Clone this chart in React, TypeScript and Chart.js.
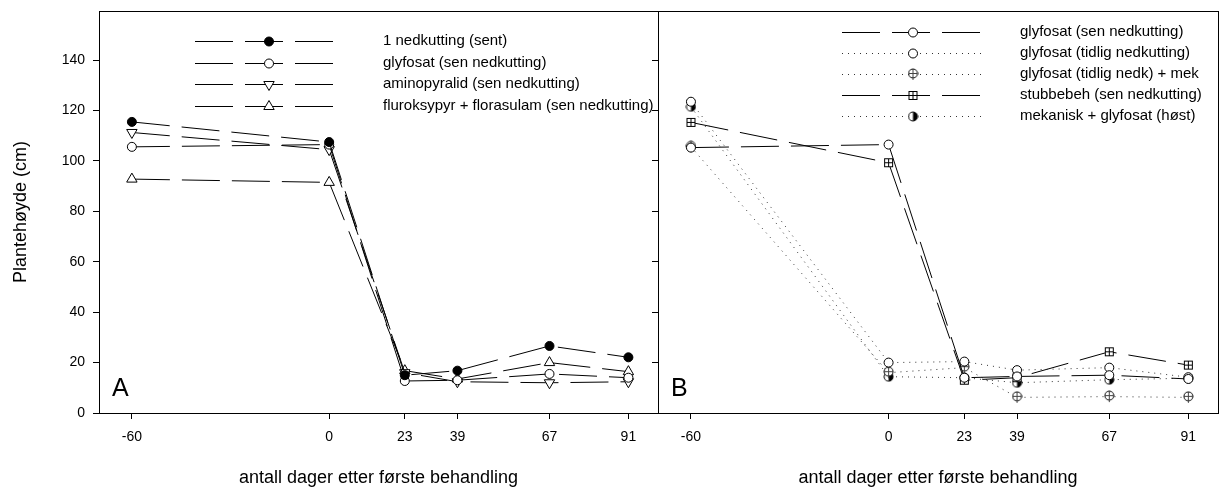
import React, { useEffect, useRef } from 'react';
import { Chart, registerables } from 'chart.js';
import { drawPoint } from 'chart.js/helpers';

Chart.register(...registerables);

// ---------- data ----------
const days = [-60, 0, 23, 39, 67, 91];
const xTickValues = [-60, 0, 23, 39, 67, 91];
const yTickValues = [0, 20, 40, 60, 80, 100, 120, 140];

// Panel A
const aLabels = [
  '1 nedkutting (sent)',
  'glyfosat (sen nedkutting)',
  'aminopyralid (sen nedkutting)',
  'fluroksypyr + florasulam (sen nedkutting)',
];
const aNedkuttingSent = [115.5, 107.5, 15, 16.8, 26.6, 22.1];
const aGlyfosatSen = [105.6, 106.5, 12.7, 13, 15.5, 14];
const aAminopyralid = [111.3, 104.5, 16, 12.4, 12, 12.4];
const aFluroksypyr = [92.8, 91.5, 16.8, 13.5, 20, 16.4];

// Panel B
const bLabels = [
  'glyfosat (sen nedkutting)',
  'glyfosat (tidlig nedkutting)',
  'glyfosat (tidlig nedk) + mek',
  'stubbebeh (sen nedkutting)',
  'mekanisk + glyfosat (høst)',
];
const bGlyfosatSen = [105.3, 106.5, 14, 14.5, 15, 13.5];
const bGlyfosatTidlig = [123.5, 20, 20.4, 17, 18, 14.2];
const bGlyfosatTidligMek = [105.6, 16, 18, 6.2, 6.5, 6.2];
const bStubbebeh = [115.3, 99.3, 13, 14, 24.3, 19];
const bMekaniskGlyfosat = [121.5, 14.4, 14, 12, 13.2, 13.8];

const FONT = '"Liberation Sans", Arial, sans-serif';
const LONG_DASH = [38, 12];
const DOTTED = [1, 5];

// ---------- custom markers ----------
function makeSquareCross(): HTMLCanvasElement {
  const c = document.createElement('canvas');
  c.width = 11; c.height = 11;
  const g = c.getContext('2d')!;
  g.fillStyle = '#fff';
  g.fillRect(1, 1, 9, 9);
  g.strokeStyle = '#000';
  g.lineWidth = 1;
  g.strokeRect(1.5, 1.5, 8, 8);
  g.beginPath();
  g.moveTo(5.5, 1.5); g.lineTo(5.5, 9.5);
  g.moveTo(1.5, 5.5); g.lineTo(9.5, 5.5);
  g.stroke();
  return c;
}
function makeHalfCircle(): HTMLCanvasElement {
  const c = document.createElement('canvas');
  c.width = 11; c.height = 11;
  const g = c.getContext('2d')!;
  g.fillStyle = '#fff';
  g.beginPath(); g.arc(5.5, 5.5, 4.5, 0, Math.PI * 2); g.fill();
  g.fillStyle = '#000';
  g.beginPath(); g.arc(5.5, 5.5, 4.5, -Math.PI / 2, Math.PI / 2); g.closePath(); g.fill();
  g.strokeStyle = '#000'; g.lineWidth = 1;
  g.beginPath(); g.arc(5.5, 5.5, 4.5, 0, Math.PI * 2); g.stroke();
  return c;
}
function makeCrossCircle(): HTMLCanvasElement {
  const c = document.createElement('canvas');
  c.width = 11; c.height = 13;
  const g = c.getContext('2d')!;
  g.fillStyle = '#fff';
  g.beginPath(); g.arc(5.5, 5.5, 4.5, 0, Math.PI * 2); g.fill();
  g.strokeStyle = '#000'; g.lineWidth = 1;
  g.beginPath(); g.arc(5.5, 5.5, 4.5, 0, Math.PI * 2); g.stroke();
  g.strokeStyle = '#444';
  g.beginPath();
  g.moveTo(5.5, 1); g.lineTo(5.5, 12);
  g.moveTo(1, 5.5); g.lineTo(10, 5.5);
  g.stroke();
  return c;
}

type SeriesDef = {
  label: string;
  values: number[];
  dash: number[];
  pointStyle: any;
  fill: string;
  radius: number;
  rotation?: number;
  lineColor?: string;
};

function toDataset(s: SeriesDef) {
  return {
    label: s.label,
    data: days.map((d, i) => ({ x: d, y: s.values[i] })),
    borderColor: s.lineColor || '#000',
    borderWidth: 1,
    borderDash: s.dash,
    pointStyle: s.pointStyle,
    pointRotation: s.rotation || 0,
    pointRadius: s.radius,
    pointBackgroundColor: s.fill,
    pointBorderColor: '#000',
    pointBorderWidth: 1,
    fill: false,
    tension: 0,
  };
}

function legendPlugin(id: string, series: SeriesDef[], x0: number, x1: number, xm: number, xText: number, ys: number[], fontSize: number) {
  return {
    id,
    afterDraw(chart: any) {
      const ctx = chart.ctx as CanvasRenderingContext2D;
      ctx.save();
      series.forEach((s, i) => {
        const y = Math.round(ys[i]) + 0.5;
        ctx.strokeStyle = s.lineColor || '#000';
        ctx.lineWidth = 1;
        ctx.setLineDash(s.dash);
        ctx.beginPath();
        ctx.moveTo(x0, y);
        ctx.lineTo(x1, y);
        ctx.stroke();
        ctx.setLineDash([]);
        ctx.fillStyle = s.fill;
        ctx.strokeStyle = '#000';
        drawPoint(ctx, { pointStyle: s.pointStyle, rotation: s.rotation || 0, radius: s.radius, borderWidth: 1 } as any, xm, y);
        ctx.fillStyle = '#000';
        ctx.font = `${fontSize}px ${FONT}`;
        ctx.textBaseline = 'middle';
        ctx.textAlign = 'left';
        ctx.fillText(s.label, xText, ys[i]);
      });
      ctx.restore();
    },
  };
}

function framePlugin(id: string, letter: string, lx: number, ly: number) {
  return {
    id,
    afterDraw(chart: any) {
      const { left, top, right, bottom } = chart.chartArea;
      const ctx = chart.ctx as CanvasRenderingContext2D;
      ctx.save();
      ctx.strokeStyle = '#000';
      ctx.lineWidth = 1;
      ctx.setLineDash([]);
      ctx.strokeRect(Math.round(left) + 0.5, Math.round(top) + 0.5, Math.round(right - left), Math.round(bottom - top));
      ctx.fillStyle = '#000';
      ctx.font = `25px ${FONT}`;
      ctx.textBaseline = 'alphabetic';
      ctx.textAlign = 'left';
      ctx.fillText(letter, lx, ly);
      ctx.restore();
    },
  };
}

function xScale() {
  return {
    type: 'linear',
    min: -70,
    max: 100,
    afterBuildTicks: (s: any) => { s.ticks = xTickValues.map((v) => ({ value: v })); },
    afterFit: (s: any) => { s.height = 76; s.paddingLeft = 0; s.paddingRight = 0; },
    ticks: { font: { family: FONT, size: 14 }, color: '#000', padding: 10, maxRotation: 0, autoSkip: false },
    grid: { display: true, drawOnChartArea: false, drawTicks: true, tickLength: 6, color: '#000' },
    border: { display: true, color: '#000', width: 1 },
    title: { display: true, text: 'antall dager etter første behandling', font: { family: FONT, size: 18 }, color: '#000', padding: { top: 0, bottom: 0 } },
  };
}

function yScale(showLabels: boolean) {
  return {
    type: 'linear',
    min: 0,
    max: 159.5,
    afterBuildTicks: (s: any) => { s.ticks = yTickValues.map((v) => ({ value: v })); },
    afterFit: (s: any) => { s.width = showLabels ? 99 : 8; s.paddingTop = 0; s.paddingBottom = 0; },
    ticks: { display: showLabels, font: { family: FONT, size: 14 }, color: '#000', padding: 8 },
    grid: { display: true, drawOnChartArea: false, drawTicks: true, tickLength: 6, color: '#000' },
    border: { display: true, color: '#000', width: 1 },
    title: { display: showLabels, text: 'Plantehøyde (cm)', font: { family: FONT, size: 18 }, color: '#000', padding: { top: 10, bottom: 0 } },
  };
}

export default function App() {
  const leftRef = useRef<HTMLCanvasElement>(null);
  const rightRef = useRef<HTMLCanvasElement>(null);

  useEffect(() => {
    const squareCross = makeSquareCross();
    const halfCircle = makeHalfCircle();
    const crossCircle = makeCrossCircle();

    const aSeries: SeriesDef[] = [
      { label: aLabels[0], values: aNedkuttingSent, dash: LONG_DASH, pointStyle: 'circle', fill: '#000', radius: 4.5 },
      { label: aLabels[1], values: aGlyfosatSen, dash: LONG_DASH, pointStyle: 'circle', fill: '#fff', radius: 4.5 },
      { label: aLabels[2], values: aAminopyralid, dash: LONG_DASH, pointStyle: 'triangle', fill: '#fff', radius: 6, rotation: 180 },
      { label: aLabels[3], values: aFluroksypyr, dash: LONG_DASH, pointStyle: 'triangle', fill: '#fff', radius: 6 },
    ];
    const bSeries: SeriesDef[] = [
      { label: bLabels[0], values: bGlyfosatSen, dash: LONG_DASH, pointStyle: 'circle', fill: '#fff', radius: 4.5 },
      { label: bLabels[1], values: bGlyfosatTidlig, dash: DOTTED, pointStyle: 'circle', fill: '#fff', radius: 4.5, lineColor: '#333' },
      { label: bLabels[2], values: bGlyfosatTidligMek, dash: DOTTED, pointStyle: crossCircle, fill: '#fff', radius: 4.5, lineColor: '#333' },
      { label: bLabels[3], values: bStubbebeh, dash: LONG_DASH, pointStyle: squareCross, fill: '#fff', radius: 4.5 },
      { label: bLabels[4], values: bMekaniskGlyfosat, dash: DOTTED, pointStyle: halfCircle, fill: '#000', radius: 4.5, lineColor: '#333' },
    ];

    const common = (padding: any) => ({
      responsive: false,
      animation: false as const,
      devicePixelRatio: 1,
      layout: { padding, autoPadding: false },
      plugins: { legend: { display: false }, tooltip: { enabled: false } },
      events: [] as any[],
    });

    const left = new Chart(leftRef.current!, {
      type: 'line',
      data: { datasets: aSeries.map(toDataset) as any },
      options: {
        ...common({ left: 0, top: 11, right: 1227 - 658, bottom: 0 }),
        scales: { x: xScale() as any, y: yScale(true) as any },
      } as any,
      plugins: [
        framePlugin('frameA', 'A', 112, 396),
        legendPlugin('legendA', aSeries, 195, 333, 269, 383, [41, 62.5, 84, 105.5], 15),
      ],
    });

    const right = new Chart(rightRef.current!, {
      type: 'line',
      data: { datasets: bSeries.map(toDataset) as any },
      options: {
        ...common({ left: 650, top: 11, right: 9, bottom: 0 }),
        scales: { x: xScale() as any, y: yScale(false) as any },
      } as any,
      plugins: [
        framePlugin('frameB', 'B', 671, 396),
        legendPlugin('legendB', bSeries, 842, 983, 913, 1020, [32, 53, 74, 95, 116], 15),
      ],
    });

    return () => {
      left.destroy();
      right.destroy();
    };
  }, []);

  const canvasStyle: React.CSSProperties = { position: 'absolute', left: 0, top: 0, width: 1227, height: 489 };
  return (
    <div style={{ position: 'fixed', left: 0, top: 0, width: 1227, height: 489, background: '#fff' }}>
      <canvas ref={leftRef} width={1227} height={489} style={canvasStyle} />
      <canvas ref={rightRef} width={1227} height={489} style={canvasStyle} />
    </div>
  );
}
